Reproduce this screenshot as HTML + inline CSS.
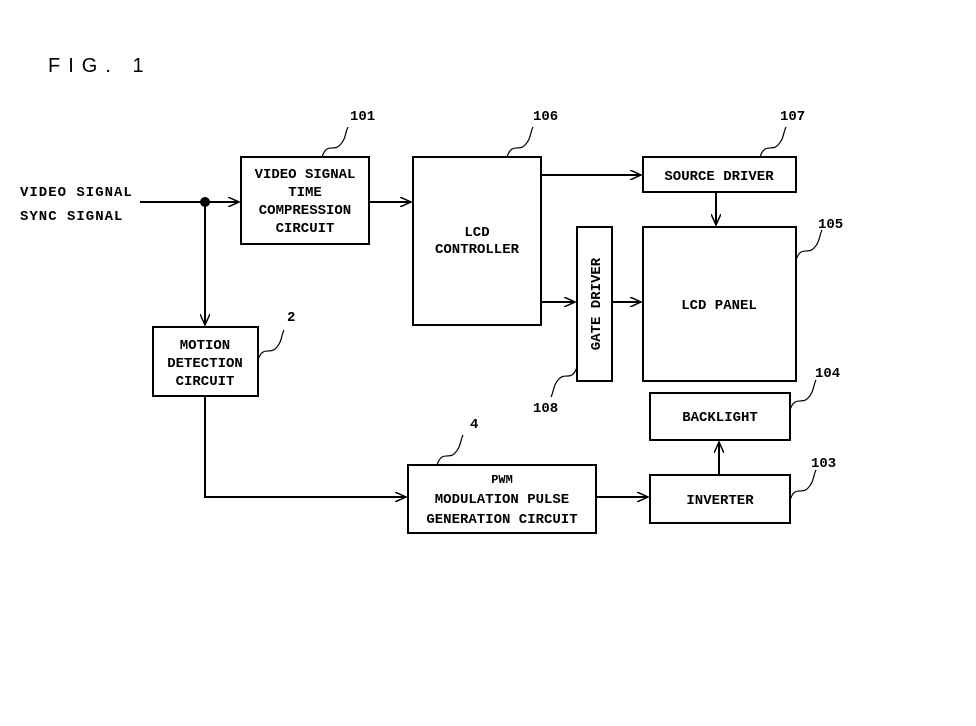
<!DOCTYPE html>
<html><head><style>
html,body{margin:0;padding:0;background:#fff;}
svg{display:block;}
text{font-family:"Liberation Mono",monospace;font-weight:bold;font-size:14px;fill:#000;}
.l{font-size:15px;letter-spacing:1px}
</style></head><body>
<svg width="976" height="726" viewBox="0 0 976 726">
<defs><marker id="a" markerWidth="12" markerHeight="10" refX="11" refY="5" orient="auto" markerUnits="userSpaceOnUse"><path d="M0,0 L11,5 L0,10" fill="none" stroke="#000" stroke-width="1.5"/></marker></defs>
<g fill="none" stroke="#000" stroke-width="2">
<rect x="241" y="157" width="128" height="87"/>
<rect x="413" y="157" width="128" height="168"/>
<rect x="643" y="157" width="153" height="35"/>
<rect x="643" y="227" width="153" height="154"/>
<rect x="577" y="227" width="35" height="154"/>
<rect x="153" y="327" width="105" height="69"/>
<rect x="408" y="465" width="188" height="68"/>
<rect x="650" y="393" width="140" height="47"/>
<rect x="650" y="475" width="140" height="48"/>
<line x1="140" y1="202" x2="239" y2="202" marker-end="url(#a)"/>
<line x1="205" y1="202" x2="205" y2="325" marker-end="url(#a)"/>
<line x1="369" y1="202" x2="411" y2="202" marker-end="url(#a)"/>
<line x1="541" y1="175" x2="641" y2="175" marker-end="url(#a)"/>
<line x1="541" y1="302" x2="575" y2="302" marker-end="url(#a)"/>
<line x1="612" y1="302" x2="641" y2="302" marker-end="url(#a)"/>
<line x1="716" y1="192" x2="716" y2="225" marker-end="url(#a)"/>
<polyline points="205,396 205,497 406,497" marker-end="url(#a)"/>
<line x1="596" y1="497" x2="648" y2="497" marker-end="url(#a)"/>
<line x1="719" y1="475" x2="719" y2="442" marker-end="url(#a)"/>
</g>
<circle cx="205" cy="202" r="5" fill="#000"/>
<g fill="none" stroke="#000" stroke-width="1.2">
<path d="M322,157 c5,-15 12,-5 18,-12 c6,-6 5,-12 8,-18"/>
<path d="M507,157 c5,-15 12,-5 18,-12 c6,-6 5,-12 8,-18"/>
<path d="M760,157 c5,-15 12,-5 18,-12 c6,-6 5,-12 8,-18"/>
<path d="M796,260 c5,-15 12,-5 18,-12 c6,-6 5,-12 8,-18"/>
<path d="M258,360 c5,-15 12,-5 18,-12 c6,-6 5,-12 8,-18"/>
<path d="M577,367 c-5,15 -12,5 -18,12 c-6,6 -5,12 -8,18"/>
<path d="M790,410 c5,-15 12,-5 18,-12 c6,-6 5,-12 8,-18"/>
<path d="M790,500 c5,-15 12,-5 18,-12 c6,-6 5,-12 8,-18"/>
<path d="M437,465 c5,-15 12,-5 18,-12 c6,-6 5,-12 8,-18"/>
</g>
<text x="48" y="72" style="font-family:'Liberation Sans',sans-serif;font-weight:normal;font-size:20px;letter-spacing:8px">FIG. 1</text>
<text x="350" y="120">101</text>
<text x="533" y="120">106</text>
<text x="780" y="120">107</text>
<text x="818" y="228">105</text>
<text x="287" y="321">2</text>
<text x="533" y="412">108</text>
<text x="815" y="377">104</text>
<text x="811" y="467">103</text>
<text x="470" y="428">4</text>
<text x="20" y="196" class="l" style="font-size:14px">VIDEO SIGNAL</text>
<text x="20" y="220" class="l" style="font-size:14px">SYNC SIGNAL</text>
<g text-anchor="middle">
<text x="305" y="178">VIDEO SIGNAL</text>
<text x="305" y="196">TIME</text>
<text x="305" y="214">COMPRESSION</text>
<text x="305" y="232">CIRCUIT</text>
<text x="477" y="236">LCD</text>
<text x="477" y="253">CONTROLLER</text>
<text x="719" y="180">SOURCE DRIVER</text>
<text x="719" y="309">LCD PANEL</text>
<text x="205" y="349">MOTION</text>
<text x="205" y="367">DETECTION</text>
<text x="205" y="385">CIRCUIT</text>
<text x="502" y="483" style="font-size:12px">PWM</text>
<text x="502" y="503">MODULATION PULSE</text>
<text x="502" y="523">GENERATION CIRCUIT</text>
<text x="720" y="421">BACKLIGHT</text>
<text x="720" y="504">INVERTER</text>
<text x="0" y="0" transform="translate(600,304) rotate(-90)">GATE DRIVER</text>
</g>
</svg>
</body></html>
